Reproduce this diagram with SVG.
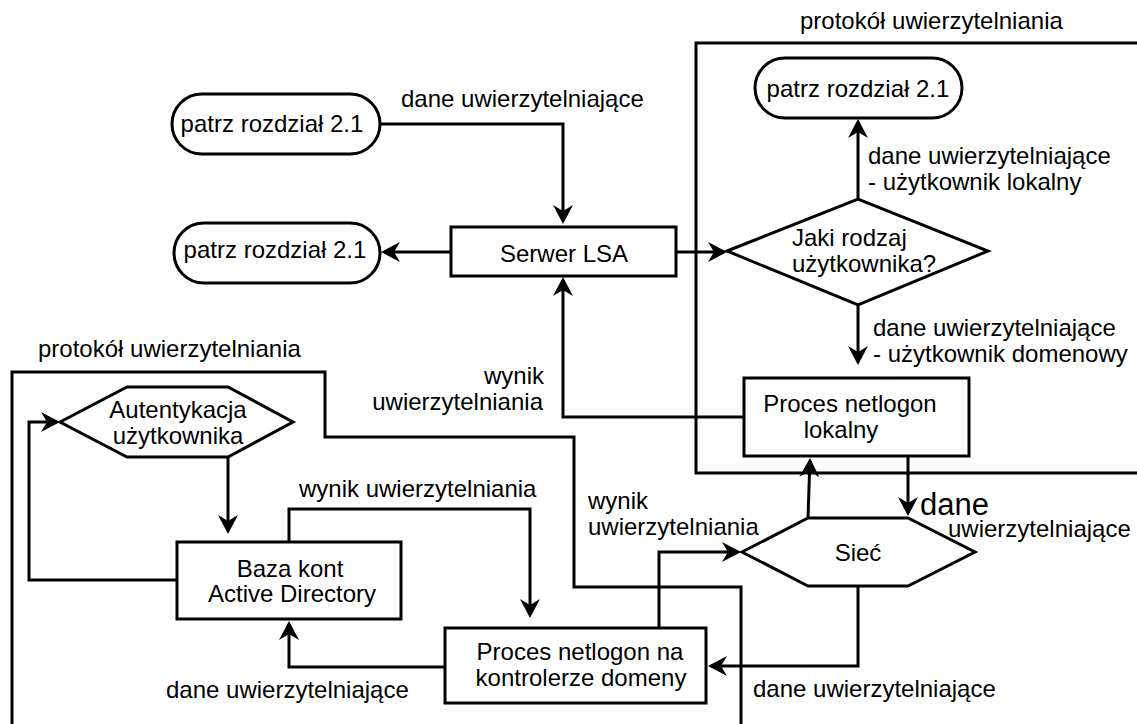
<svg xmlns="http://www.w3.org/2000/svg" width="1137" height="724" viewBox="0 0 1137 724">
<style>
  text { font-family: "Liberation Sans", Arial, sans-serif; font-size: 24px; fill: #000; }
  .shape { fill: #fff; stroke: #000; stroke-width: 3; }
  .line { fill: none; stroke: #000; stroke-width: 3; }
  .arrow { fill: none; stroke: #000; stroke-width: 3; marker-end: url(#ah); }
  .mid { text-anchor: middle; }
  .end { text-anchor: end; }
</style>
<defs>
  <marker id="ah" viewBox="-18 -11 23 22" refX="0" refY="0" markerWidth="23" markerHeight="22" markerUnits="userSpaceOnUse" orient="auto">
    <path d="M3,0 L-16,-10 L-10,0 L-16,10 Z" fill="#000"/>
  </marker>
</defs>
<rect width="1137" height="724" fill="#fff"/>

<g id="containers">
  <path class="line" d="M1137,43 H696 V473 H1137"/>
  <text x="800" y="29">protokół uwierzytelniania</text>
  <path class="line" d="M12,726 V372 H325 V437 H574 V587 H741 V726"/>
  <text x="38" y="357">protokół uwierzytelniania</text>
</g>

<g id="connectors">
  <path class="arrow" d="M380,124 H563 V221"/>
  <path class="arrow" d="M451,252 H384"/>
  <path class="arrow" d="M676,252 H724"/>
  <path class="arrow" d="M858,199 V122"/>
  <path class="arrow" d="M858,305 V362"/>
  <path class="arrow" d="M744,417 H563 V280"/>
  <path class="arrow" d="M908,456 V513"/>
  <path class="arrow" d="M808,518 L809.9,461"/>
  <path class="arrow" d="M858,586 V666 H711"/>
  <path class="arrow" d="M659,628 V552 H738"/>
  <path class="arrow" d="M289,542 V509 H530 V615"/>
  <path class="arrow" d="M445,667 H289 V624"/>
  <path class="arrow" d="M228,457 V531"/>
  <path class="arrow" d="M177,580 H29 V422 H57"/>
</g>

<g id="labels">
  <text x="401" y="107">dane uwierzytelniające</text>
  <text x="868" y="164">dane uwierzytelniające</text>
  <text x="868" y="190">- użytkownik lokalny</text>
  <text x="873" y="336">dane uwierzytelniające</text>
  <text x="873" y="362">- użytkownik domenowy</text>
  <text class="end" x="544" y="384">wynik</text>
  <text class="end" x="543" y="410">uwierzytelniania</text>
  <text x="299" y="497">wynik uwierzytelniania</text>
  <text x="588" y="509">wynik</text>
  <text x="588" y="535">uwierzytelniania</text>
  <text x="920" y="515" style="font-size:31px">dane</text>
  <text x="948" y="537">uwierzytelniające</text>
  <text x="753" y="697">dane uwierzytelniające</text>
  <text x="166" y="698">dane uwierzytelniające</text>
</g>

<g id="pill-top-left">
  <rect class="shape" x="172" y="94" width="208" height="60" rx="30"/>
  <text class="mid" x="272" y="132">patrz rozdział 2.1</text>
</g>
<g id="pill-left">
  <rect class="shape" x="174" y="223" width="206" height="60" rx="30"/>
  <text class="mid" x="275" y="258">patrz rozdział 2.1</text>
</g>
<g id="pill-top-right">
  <rect class="shape" x="755" y="58" width="207" height="60" rx="30"/>
  <text class="mid" x="858" y="97">patrz rozdział 2.1</text>
</g>
<g id="serwer-lsa">
  <rect class="shape" x="451" y="227" width="225" height="49"/>
  <text class="mid" x="564" y="262">Serwer LSA</text>
</g>
<g id="decision">
  <path class="shape" d="M727,251 L858,199 L988,251 L858,305 Z"/>
  <text x="792" y="246">Jaki rodzaj</text>
  <text x="792" y="272">użytkownika?</text>
</g>
<g id="netlogon-lokalny">
  <rect class="shape" x="744" y="378" width="225" height="78"/>
  <text class="mid" x="850" y="412">Proces netlogon</text>
  <text class="mid" x="841" y="438">lokalny</text>
</g>
<g id="siec">
  <path class="shape" d="M742,552 L808,518 L908,518 L975,552 L908,586 L808,586 Z"/>
  <text class="mid" x="858" y="561">Sieć</text>
</g>
<g id="autentykacja">
  <path class="shape" d="M60,422 L127,387 L228,387 L293,422 L228,457 L127,457 Z"/>
  <text class="mid" x="178" y="418">Autentykacja</text>
  <text class="mid" x="178" y="444">użytkownika</text>
</g>
<g id="baza-kont">
  <rect class="shape" x="177" y="542" width="224" height="77"/>
  <text class="mid" x="290" y="577">Baza kont</text>
  <text class="mid" x="292" y="602">Active Directory</text>
</g>
<g id="netlogon-dc">
  <rect class="shape" x="445" y="628" width="261" height="75"/>
  <text class="mid" x="580" y="660">Proces netlogon na</text>
  <text class="mid" x="581" y="686">kontrolerze domeny</text>
</g>
</svg>
